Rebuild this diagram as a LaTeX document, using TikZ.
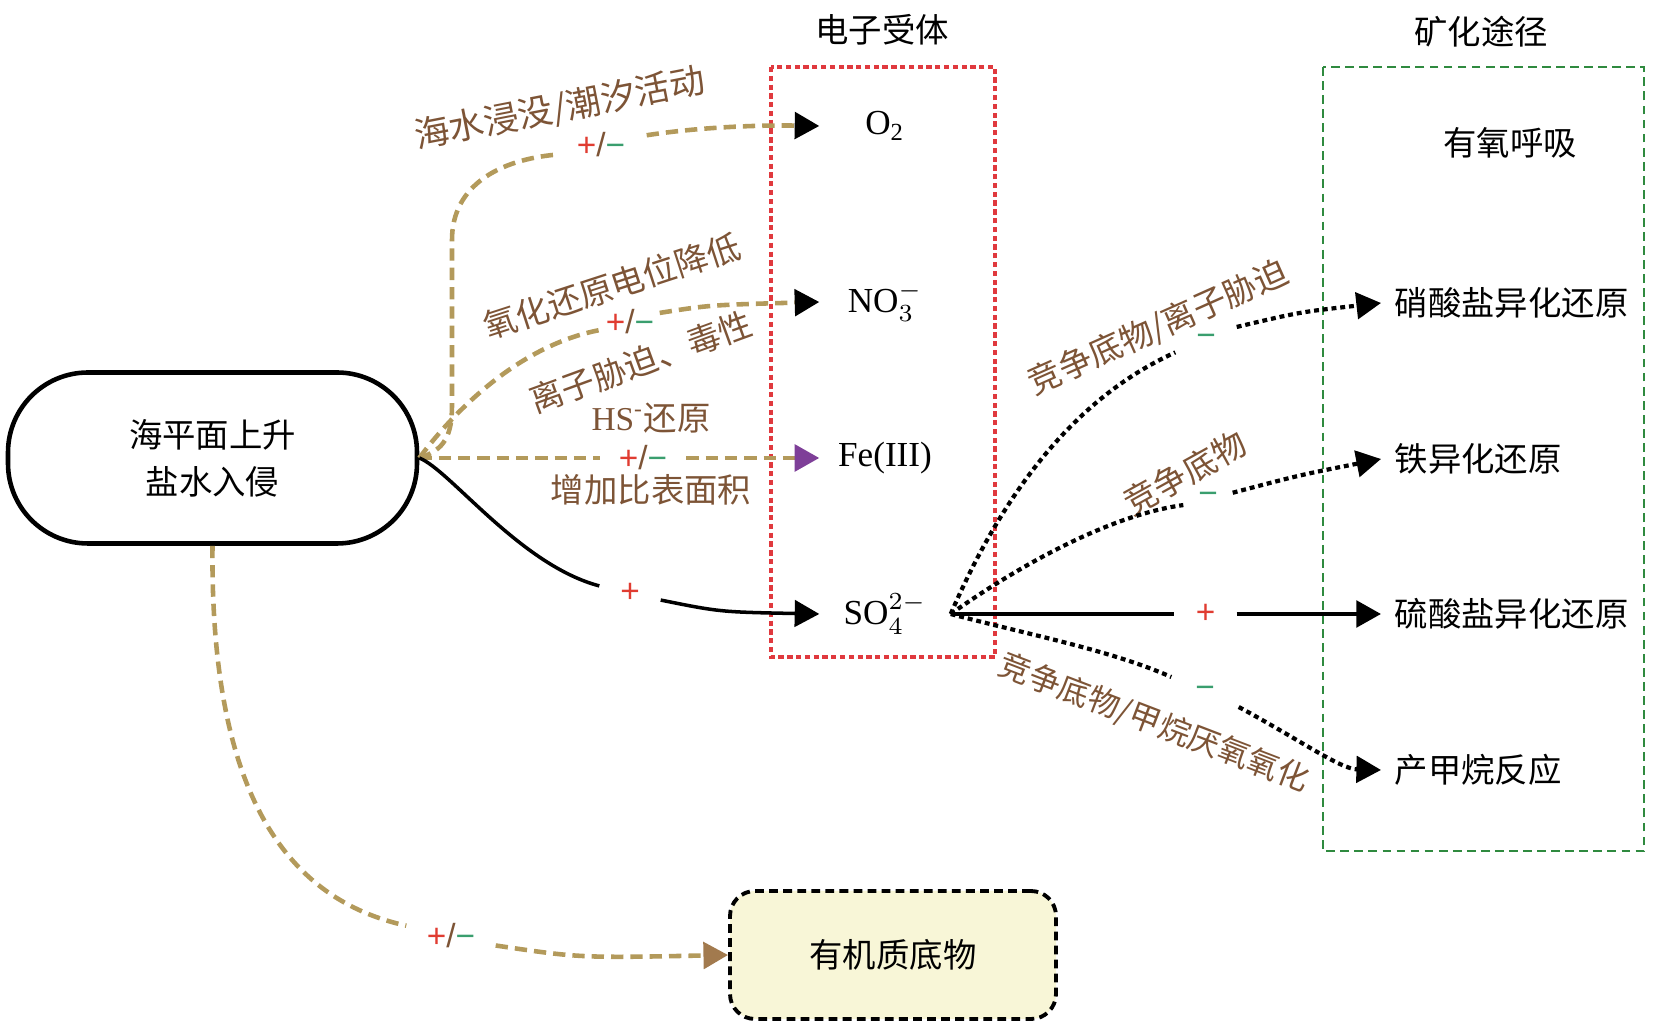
\documentclass[tikz,border=0pt]{standalone}
\usepackage{fontspec}
\setmainfont{Liberation Serif}
\setsansfont{Liberation Sans}
\newfontfamily\cjk{Noto Sans CJK SC}
\usetikzlibrary{arrows.meta}
\definecolor{tanc}{HTML}{B39A5B}
\definecolor{lblc}{HTML}{7D5436}
\definecolor{plusc}{HTML}{E03C31}
\definecolor{minusc}{HTML}{3A9E6E}
\definecolor{boxred}{HTML}{E0393E}
\definecolor{boxgreen}{HTML}{2F8A3F}
\definecolor{purp}{HTML}{7E3F98}
\definecolor{arrbrown}{HTML}{A27A4E}
\definecolor{omfill}{HTML}{F8F6D7}
\tikzset{>={Triangle[length=7pt,width=7.5pt,color=black]}}
\tikzset{
  tanline/.style={draw=tanc, line width=1.3pt, dash pattern=on 3.5pt off 2pt},
  dotline/.style={draw=black, line width=1.2pt, dash pattern=on 1.4pt off 1.1pt},
  solidline/.style={draw=black, line width=1pt},
  sign/.style={inner sep=0pt, minimum height=0.4cm, font=\sffamily\fontsize{9.5}{11}\selectfont},
  lbl/.style={text=lblc, inner sep=0pt, font=\cjk\fontsize{9.5}{11}\selectfont},
  cn/.style={font=\cjk\fontsize{9.5}{11}\selectfont},
  acc/.style={minimum width=1.3cm, inner sep=0pt, font=\fontsize{10}{12}\selectfont},
  path/.style={anchor=west, inner xsep=0.13cm, font=\cjk\fontsize{9.5}{11}\selectfont}
}
\newcommand{\plmn}{{\color{plusc}+}{\color{lblc}/}{\color{minusc}−}}
\newcommand{\mnsign}{{\color{minusc}−}}
\newcommand{\plsign}{{\color{plusc}+}}
\begin{document}
\begin{tikzpicture}
\useasboundingbox (0,0) rectangle (16.54,-10.29);
\draw[draw=boxred, line width=0.9pt, dash pattern=on 1.5pt off 1pt] (7.71,-0.67) rectangle (9.95,-6.57);
\draw[draw=boxgreen, line width=0.8pt, dash pattern=on 2.5pt off 1.5pt] (13.23,-0.67) rectangle (16.44,-8.51);
\node[cn] (acctitle) at (8.82,-0.30) {电子受体};
\node[cn] (mintitle) at (14.81,-0.32) {矿化途径};
\node[cn, draw, line width=1.3pt, rounded corners=0.8cm, minimum width=4.09cm, minimum height=1.71cm, align=center,
  font=\cjk\fontsize{9.5}{13.3}\selectfont] (rise) at (2.125,-4.58) {海平面上升\\盐水入侵};
\node[acc] (o2) at (8.85,-1.26) {O\textsubscript{2}};
\node[acc] (no3) at (8.85,-3.02) {NO$_3^-$};
\node[acc] (fe) at (8.85,-4.58) {Fe(III)};
\node[acc] (so4) at (8.85,-6.14) {SO$_4^{2-}$};
\node[cn] (aer) at (15.10,-1.43) {有氧呼吸};
\node[path] (nar) at (13.81,-3.03) {硝酸盐异化还原};
\node[path] (fer) at (13.81,-4.59) {铁异化还原};
\node[path] (sar) at (13.81,-6.14) {硫酸盐异化还原};
\node[path] (mpr) at (13.81,-7.70) {产甲烷反应};
\node[cn, draw, line width=1.1pt, dash pattern=on 2.5pt off 1.5pt, rounded corners=0.25cm, fill=omfill,
  minimum width=3.26cm, minimum height=1.28cm] (om) at (8.93,-9.55) {有机质底物};
\node[sign, minimum width=0.9cm] (pmA) at (6.01,-1.45) {\plmn};
\node[sign, minimum width=0.58cm] (pmB) at (6.30,-3.22) {\plmn};
\node[sign, minimum width=0.85cm] (pmC) at (6.43,-4.58) {\plmn};
\node[sign, minimum width=0.6cm] (pmD) at (6.30,-5.93) {\plsign};
\node[sign, minimum width=0.88cm] (pmE) at (4.51,-9.36) {\plmn};
\node[sign, minimum width=0.6cm] (mnN) at (12.06,-3.40) {\mnsign};
\node[sign, minimum width=0.48cm] (mnF) at (12.08,-4.98) {\mnsign};
\node[sign, minimum width=0.61cm] (plS) at (12.055,-6.14) {\plsign};
\node[sign, minimum width=0.66cm] (mnM) at (12.05,-6.92) {\mnsign};
\node[lbl, rotate=11, font=\cjk\fontsize{10}{12}\selectfont] (lab1) at (5.60,-1.09) {海水浸没/潮汐活动};
\node[lbl, rotate=18] (lab2) at (6.12,-2.86) {氧化还原电位降低};
\node[lbl, rotate=20] (lab3) at (6.41,-3.62) {离子胁迫、毒性};
\node[lbl] (lab4) at (6.51,-4.18) {{\rmfamily HS\textsuperscript{-}}还原};
\node[lbl] (lab5) at (6.51,-4.90) {增加比表面积};
\node[lbl, rotate=24] (lab6) at (11.58,-3.28) {竞争底物/离子胁迫};
\node[lbl, rotate=29] (lab7) at (11.85,-4.73) {竞争底物};
\node[lbl, rotate=-21, font=\cjk\fontsize{9}{11}\selectfont] (lab8) at (11.54,-7.23) {竞争底物/甲烷厌氧氧化};
\draw[tanline] (rise.east) .. controls (4.45,-4.50) and (4.52,-4.35) .. (4.52,-4.05) -- (4.52,-2.40)
  .. controls (4.52,-1.85) and (5.00,-1.60) .. (pmA.192);
\draw[tanline, ->] (pmA.12) .. controls (7.0,-1.27) and (7.6,-1.25) .. (o2.west);
\draw[tanline] (rise.east) .. controls (4.55,-4.10) and (5.20,-3.45) .. (pmB.195);
\draw[tanline, ->] (pmB.17) .. controls (7.1,-3.05) .. (no3.west);
\draw[tanline] (rise.east) -- (pmC.west);
\draw[tanline, -{Triangle[length=7pt,width=7.5pt,color=purp]}] (pmC.east) -- (fe.west);
\draw[solidline] (rise.east) .. controls (4.50,-4.70) and (5.20,-5.65) .. (pmD.167);
\draw[solidline, ->] (pmD.-13) .. controls (7.2,-6.12) .. (so4.west);
\draw[tanline] (rise.south) .. controls (2.10,-8.00) and (2.90,-9.00) .. (pmE.167);
\draw[tanline, -{Triangle[length=7pt,width=7.5pt,color=arrbrown]}] (pmE.-12) .. controls (5.8,-9.58) .. (om.west);
\draw[dotline] (so4.east) .. controls (10.00,-5.00) and (10.70,-4.00) .. (mnN.202);
\draw[dotline, ->] (mnN.23) .. controls (13.0,-3.12) .. (nar.west);
\draw[dotline] (so4.east) .. controls (10.20,-5.65) and (11.10,-5.15) .. (mnF.196);
\draw[dotline, ->] (mnF.12) .. controls (13.0,-4.75) .. (fer.west);
\draw[solidline, line width=1.2pt] (so4.east) -- (plS.west);
\draw[solidline, line width=1.2pt, ->] (plS.east) -- (sar.west);
\draw[dotline] (so4.east) .. controls (10.30,-6.35) and (11.10,-6.50) .. (mnM.156);
\draw[dotline, ->] (mnM.-24) .. controls (13.0,-7.40) and (13.40,-7.69) .. (mpr.west);
\end{tikzpicture}
\end{document}
